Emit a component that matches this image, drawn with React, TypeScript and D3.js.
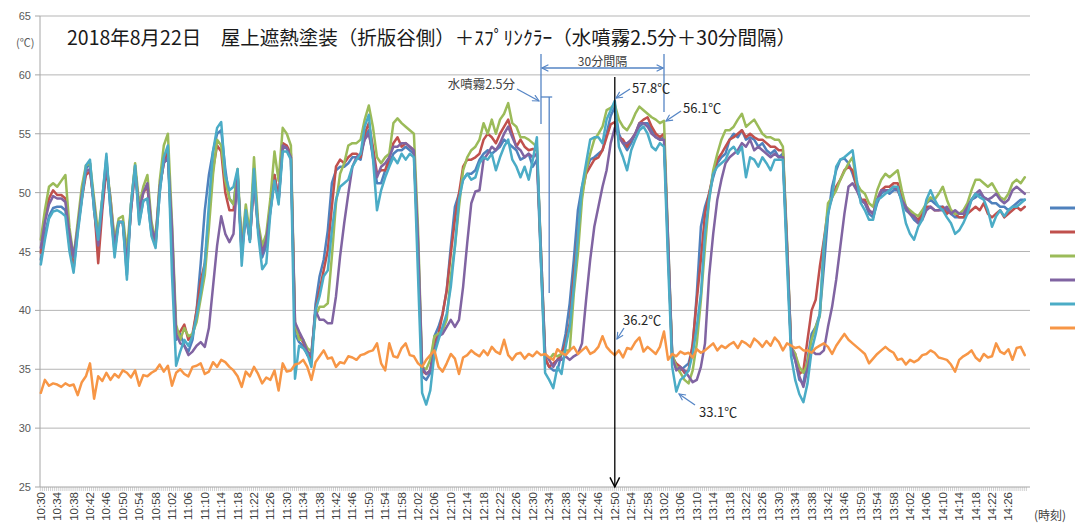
import React from 'react';
import * as d3 from 'd3';

const tickLabels = [
  "10:30","10:34","10:38","10:42","10:46","10:50","10:54","10:58","11:02","11:06",
  "11:10","11:14","11:18","11:22","11:26","11:30","11:34","11:38","11:42","11:46",
  "11:50","11:54","11:58","12:02","12:06","12:10","12:14","12:18","12:22","12:26",
  "12:30","12:34","12:38","12:42","12:46","12:50","12:54","12:58","13:02","13:06",
  "13:10","13:14","13:18","13:22","13:26","13:30","13:34","13:38","13:42","13:46",
  "13:50","13:54","13:58","14:02","14:06","14:10","14:14","14:18","14:22","14:26"
];
const yTicks = [25, 30, 35, 40, 45, 50, 55, 60, 65];

const seriesBlue = [
  44.3,46.5,48.0,48.7,48.8,48.8,48.5,45.5,43.5,46.8,
  49.5,52.0,52.5,48.5,45.5,49.5,53.0,48.5,45.0,47.5,
  47.5,43.0,49.0,52.3,47.5,49.3,49.5,46.5,45.5,50.0,
  53.0,53.5,45.0,37.5,38.0,37.0,36.5,37.5,40.0,44.0,
  48.5,51.5,53.5,55.0,55.3,52.0,49.5,49.0,51.8,44.5,
  48.5,46.0,52.0,47.0,44.5,45.5,48.5,51.5,49.3,53.8,
  53.8,53.0,38.0,37.3,37.0,36.2,35.8,40.5,42.9,44.3,
  46.8,50.8,51.9,52.2,52.2,52.5,53.0,53.0,52.8,54.7,
  55.3,53.0,50.8,50.8,51.9,52.5,53.3,53.6,53.6,53.9,
  53.6,53.3,45.0,34.4,34.1,34.7,37.8,38.6,39.7,41.7,
  45.4,48.8,49.9,51.1,51.6,51.6,51.9,52.8,53.3,53.6,
  53.3,53.6,53.9,54.5,54.2,53.9,53.6,52.8,53.0,53.3,
  52.2,52.8,44.0,35.8,35.2,34.9,34.9,36.3,38.0,40.6,
  44.3,48.5,50.5,51.9,52.8,53.0,53.3,53.6,55.0,56.5,
  57.3,55.0,54.2,53.6,54.2,55.0,55.6,55.9,55.9,55.3,
  54.7,54.5,54.7,45.0,36.3,35.2,34.9,35.2,35.5,36.9,
  41.4,47.1,48.8,49.9,51.3,52.5,53.0,53.3,54.5,55.0,
  54.7,55.3,54.5,54.7,54.5,53.9,54.2,53.6,53.3,53.6,
  53.0,53.3,45.0,36.6,35.8,34.1,33.8,35.8,38.0,38.6,
  39.7,43.7,48.0,50.5,51.9,52.8,52.9,52.5,51.6,50.5,
  49.4,49.1,48.2,47.9,49.1,49.9,50.2,49.9,50.2,50.2,
  49.4,48.5,48.2,47.7,47.4,48.0,49.1,49.4,49.1,48.8,
  48.8,48.5,48.2,47.9,47.9,47.9,48.5,49.4,49.6,49.9,
  49.6,49.4,49.1,49.1,48.8,48.8,48.5,48.8,49.1,49.4,49.4
];
const seriesRed = [
  44.9,48.0,49.5,50.2,49.8,49.8,49.5,46.5,44.0,47.0,
  49.5,51.5,51.8,49.0,44.0,48.5,52.0,49.5,45.5,47.5,
  47.5,44.0,48.5,52.0,48.5,50.0,50.5,47.0,45.8,50.5,
  52.5,53.5,46.0,38.0,38.2,38.8,37.5,38.0,40.0,42.5,
  44.0,48.0,52.0,54.0,53.5,50.0,48.5,48.5,51.5,45.0,
  48.5,46.0,51.0,47.0,45.0,46.0,49.0,51.5,49.5,54.2,
  54.0,53.3,38.5,37.8,37.3,36.5,36.0,40.0,41.7,43.4,
  45.1,48.8,52.2,52.8,52.5,53.0,53.3,53.3,53.0,55.0,
  55.9,53.9,51.6,51.9,51.9,53.0,54.2,54.7,53.9,54.2,
  53.9,53.6,45.5,34.9,34.6,34.9,37.2,38.0,39.7,41.7,
  44.8,47.7,49.9,52.2,52.8,52.8,53.0,53.3,54.5,55.0,
  54.7,54.2,55.0,55.6,56.2,55.0,53.9,54.5,53.9,53.6,
  53.7,53.6,44.5,36.0,35.2,35.5,35.8,36.3,37.2,38.9,
  42.9,46.5,49.9,51.6,52.2,52.8,53.0,53.6,54.7,55.8,
  56.0,54.7,54.5,53.9,54.5,55.0,55.9,56.2,56.4,55.6,
  55.0,54.7,55.0,45.5,36.0,35.5,35.2,34.7,34.9,37.2,
  40.9,44.3,48.2,49.9,51.6,52.8,53.3,53.9,54.5,54.7,
  55.0,55.3,54.7,55.0,54.7,54.5,54.5,54.2,53.9,53.9,
  53.6,53.6,45.5,36.9,36.3,34.6,34.9,37.5,40.0,40.9,
  43.7,46.0,48.5,49.6,50.5,51.1,51.9,52.2,51.9,50.5,
  49.4,49.4,48.5,48.2,49.4,50.2,50.5,50.5,50.8,50.8,
  49.6,48.8,48.2,48.0,47.7,48.2,48.8,48.8,48.5,48.5,
  48.8,48.2,48.5,48.2,47.9,47.9,48.2,48.5,48.8,48.5,
  49.1,48.2,47.9,48.2,48.5,47.9,48.2,48.5,48.8,48.5,48.8
];
const seriesGreen = [
  46.0,48.5,50.5,50.8,50.5,51.0,51.5,47.0,44.5,47.5,
  50.5,52.3,52.5,49.5,46.5,49.5,52.5,49.5,46.0,47.8,
  48.0,45.0,49.0,52.5,49.0,50.5,51.5,47.5,46.0,51.0,
  54.0,55.0,47.5,38.8,37.5,38.5,37.8,38.0,39.0,41.0,
  43.0,47.0,51.5,54.5,54.0,51.0,49.5,49.0,52.0,45.5,
  49.0,46.5,53.0,47.5,45.5,46.5,49.5,53.5,51.0,55.5,
  55.0,54.0,39.0,37.5,37.5,36.8,36.5,39.5,40.3,40.3,
  40.6,44.6,49.1,51.6,52.5,54.0,54.2,54.2,54.5,56.2,
  57.4,55.6,53.0,52.5,53.0,53.3,55.9,56.3,55.9,55.6,
  55.3,55.0,47.0,35.2,35.0,35.8,37.8,38.0,38.3,39.2,
  42.9,45.4,48.8,51.9,53.0,53.6,53.9,54.5,55.9,55.0,
  56.2,55.0,56.2,56.7,57.6,55.9,55.6,54.7,54.7,54.5,
  54.2,53.9,45.0,36.3,35.8,36.3,36.1,36.3,36.6,36.6,
  41.4,44.8,49.4,51.9,53.3,54.5,55.0,55.6,57.0,57.2,
  57.5,56.2,55.6,55.3,55.9,56.7,57.3,57.0,56.7,56.4,
  56.2,55.9,56.1,46.0,36.3,35.2,34.7,34.1,33.8,34.9,
  37.2,40.9,45.4,49.4,51.9,53.3,54.5,55.3,55.3,55.6,
  56.2,56.7,55.6,55.9,56.2,55.6,55.0,54.7,54.7,54.5,
  54.5,53.9,46.0,36.9,36.3,35.2,34.7,35.5,37.5,38.6,
  39.5,45.4,49.1,49.6,50.2,51.1,51.8,52.5,53.0,50.8,
  50.2,49.9,49.1,48.8,50.2,51.1,51.6,51.3,51.6,51.9,
  50.2,48.8,48.5,48.2,48.0,48.5,49.1,49.6,49.4,49.9,
  50.5,49.4,48.5,48.2,48.2,48.5,49.1,50.2,51.1,51.1,
  50.8,50.5,50.8,50.2,49.6,49.4,49.9,50.8,51.1,50.8,51.3
];
const seriesPurple = [
  45.3,47.5,49.0,49.7,49.5,49.5,49.2,46.5,44.5,47.0,
  49.8,51.8,52.0,49.0,45.5,49.0,52.5,49.0,45.5,47.5,
  47.5,44.0,48.5,52.0,48.5,50.0,50.8,47.0,46.0,50.5,
  52.5,53.0,47.0,38.0,37.2,37.0,36.2,36.5,37.0,37.3,
  36.9,38.5,42.0,45.5,48.0,46.5,45.8,46.5,51.5,45.0,
  48.0,46.0,51.0,47.0,44.8,46.0,48.5,51.0,49.3,54.0,
  53.8,53.0,39.0,38.2,37.5,36.5,36.2,40.0,39.2,39.2,
  38.9,38.9,41.2,44.6,47.4,49.9,52.2,53.0,53.3,54.5,
  55.0,53.3,51.3,52.2,52.5,53.0,53.9,53.9,54.2,54.2,
  53.9,53.6,46.0,35.2,34.6,34.9,36.6,37.8,38.0,38.6,
  39.2,38.6,39.2,42.0,45.7,49.1,50.1,50.2,52.8,53.3,
  53.9,53.6,54.2,55.0,55.6,54.7,53.9,53.6,53.0,53.3,
  53.0,53.3,45.0,36.3,35.8,35.2,35.8,35.8,36.1,35.8,
  36.1,36.3,37.2,40.9,44.3,47.1,48.8,50.5,51.9,54.2,
  55.5,54.7,54.2,54.2,54.5,55.0,55.9,55.9,55.6,55.0,
  54.7,54.5,54.5,46.0,36.0,34.9,35.2,34.9,34.4,33.9,
  34.1,35.2,37.2,42.9,46.5,49.4,51.1,52.5,53.0,53.3,
  53.6,54.2,53.9,54.5,53.6,53.9,53.6,53.3,53.0,53.3,
  53.0,53.0,45.5,36.9,35.8,34.4,33.5,35.0,36.6,36.3,
  36.3,36.6,38.6,40.3,42.6,45.4,48.2,50.5,50.8,50.2,
  49.4,49.1,48.5,48.2,49.4,50.2,50.2,50.2,50.5,50.2,
  49.4,48.8,48.2,48.0,47.4,47.7,48.5,48.8,48.5,48.5,
  48.5,48.8,48.2,48.5,48.2,48.2,48.8,49.4,49.9,50.2,
  49.6,49.4,49.6,49.9,49.4,49.1,49.4,50.2,50.5,50.2,49.9
];
const seriesCyan = [
  43.9,46.0,47.8,48.4,48.5,48.3,48.0,45.0,43.2,46.5,
  49.3,52.3,52.8,48.5,46.0,49.5,53.3,48.5,44.5,47.5,
  47.5,42.6,49.0,52.3,47.3,49.3,49.5,46.3,45.3,50.0,
  53.0,54.0,43.0,35.3,36.5,37.5,37.0,37.8,39.5,41.5,
  44.0,49.0,53.5,55.5,56.0,51.5,50.2,50.5,52.0,43.8,
  48.5,45.8,52.0,46.5,43.5,44.0,48.3,51.0,49.0,53.5,
  53.5,52.8,34.2,37.0,36.8,36.3,35.2,40.0,41.2,42.9,
  43.4,46.8,49.4,50.5,50.8,51.1,52.2,52.8,53.3,55.6,
  56.6,53.0,48.5,50.2,51.3,52.2,53.0,52.5,53.3,52.8,
  53.3,53.0,43.0,33.0,32.0,33.2,36.3,37.5,38.6,39.7,
  42.0,45.4,49.4,51.1,51.6,51.1,51.3,52.5,53.0,52.8,
  53.3,51.9,53.0,53.9,54.5,52.8,52.2,51.3,52.2,51.1,
  52.8,54.7,44.0,34.7,34.1,33.4,35.2,34.6,36.9,38.6,
  42.0,46.3,50.5,52.5,54.5,54.7,54.7,54.2,56.2,57.0,
  57.8,53.9,53.0,51.9,53.6,54.5,55.3,55.6,55.0,53.9,
  53.6,54.2,53.9,44.0,35.2,33.1,34.1,34.4,34.9,36.3,
  38.6,41.4,46.5,49.4,51.6,52.2,52.5,52.8,53.6,53.9,
  53.3,53.9,51.3,53.0,52.8,52.2,53.0,52.5,51.9,52.8,
  52.8,52.8,44.0,36.1,34.1,32.9,32.2,33.8,36.6,38.0,
  39.7,45.7,48.2,49.6,52.2,52.8,53.0,53.3,53.6,51.1,
  49.1,48.5,47.7,47.7,49.4,49.6,49.9,50.2,50.5,50.5,
  49.1,47.4,46.5,46.0,47.1,47.7,49.4,50.2,49.4,48.8,
  48.5,47.9,47.4,46.5,46.8,47.4,48.2,49.4,49.9,49.6,
  49.4,48.5,47.1,48.0,48.5,48.0,48.5,48.8,48.8,49.1,49.4
];
const seriesOrange = [
  33.0,34.1,33.6,33.8,33.7,33.5,33.8,33.6,33.7,32.8,
  33.9,34.4,35.5,32.5,34.4,34.0,34.7,34.1,34.6,34.3,
  34.9,34.7,34.3,34.9,33.6,34.5,34.4,34.7,34.9,35.4,
  34.8,35.3,33.6,34.7,35.0,34.6,34.4,35.2,35.3,35.5,
  34.6,34.8,35.6,35.2,35.8,35.6,35.2,34.9,34.4,33.5,
  34.8,34.4,35.2,34.6,33.8,34.3,34.1,34.9,33.2,35.5,
  34.8,34.9,35.4,35.5,35.8,35.2,34.1,35.6,36.1,36.6,
  35.9,36.0,35.2,35.6,35.5,36.1,36.0,35.8,36.2,36.3,
  36.5,36.6,37.2,35.5,34.9,37.2,36.1,36.0,36.8,37.2,
  36.2,36.1,35.5,35.2,35.8,36.2,36.6,35.2,34.8,35.5,
  36.3,35.9,34.6,36.0,36.2,36.6,36.3,36.1,36.6,36.2,
  36.9,36.5,36.3,37.5,36.2,35.8,36.3,36.4,35.9,36.3,
  36.1,36.5,36.2,36.3,36.0,35.8,36.7,36.4,36.2,36.6,
  36.9,36.3,36.6,36.9,36.3,36.5,36.9,37.8,36.9,36.5,
  36.2,36.6,36.0,36.8,36.7,37.3,37.7,36.5,36.9,36.6,
  36.3,36.9,38.2,35.8,36.3,36.1,36.5,36.3,36.4,36.0,
  36.7,36.4,36.6,36.9,37.2,36.6,37.0,36.8,37.1,37.3,
  36.8,37.4,37.2,36.9,37.6,37.3,36.9,37.4,37.0,37.7,
  37.3,36.6,37.2,37.0,36.8,36.9,36.6,36.6,36.4,36.8,
  37.0,37.2,36.9,36.3,37.0,37.5,38.0,37.5,37.2,36.9,
  36.6,36.3,35.5,35.9,36.3,36.6,36.9,36.6,36.4,35.8,
  35.9,35.4,35.8,35.6,35.8,36.2,36.3,36.6,36.4,36.0,
  35.9,35.8,35.4,34.8,35.8,36.1,36.3,36.6,36.0,35.7,
  36.3,36.0,36.1,37.2,36.5,36.3,36.7,35.8,36.8,36.9,36.2
];

const seriesList = [
  { values: seriesBlue, color: '#4F81BD' },
  { values: seriesRed, color: '#C0504D' },
  { values: seriesGreen, color: '#9BBB59' },
  { values: seriesPurple, color: '#8064A2' },
  { values: seriesCyan, color: '#4BACC6' },
  { values: seriesOrange, color: '#F79646' },
];

const W = 1075, H = 524;
const PL = 40, PR = 1030, PT = 16, PB = 487;
const x = d3.scaleLinear().domain([0, 240]).range([40.8, 1024.8]);
const y = d3.scaleLinear().domain([25, 65]).range([PB, PT]);

const sansFont = '"Liberation Sans", Arial, sans-serif';
const jpFont = '"Noto Sans CJK JP", "Noto Sans", sans-serif';
const annBlue = '#5585C5';

export default function App() {
  const line = d3.line<number>()
    .x((_, i) => x(i))
    .y((d) => y(d));
  const minorTicks = d3.range(0, 241, 0.5);
  const legendY = [208, 232, 256, 280, 304, 328];

  return (
    <svg width={W} height={H} style={{ position: 'absolute', left: 0, top: 0, display: 'block', background: '#fff' }}>
      <defs>
        <marker id="arrBlue" viewBox="0 0 10 10" refX="9" refY="5" markerWidth="8" markerHeight="8" orient="auto-start-reverse" markerUnits="userSpaceOnUse">
          <path d="M1,1 L9,5 L1,9" fill="none" stroke={annBlue} strokeWidth="1.4" />
        </marker>
        <marker id="arrBlack" viewBox="0 0 10 10" refX="9" refY="5" markerWidth="14" markerHeight="12" orient="auto" markerUnits="userSpaceOnUse">
          <path d="M1,1 L9,5 L1,9" fill="none" stroke="#000" strokeWidth="1.2" />
        </marker>
      </defs>
      <rect x={0} y={0} width={W} height={H} fill="#fff" />

      {/* gridlines */}
      {yTicks.map((t) => (
        <g key={t}>
          {t > 25 && <line x1={PL} x2={PR} y1={y(t)} y2={y(t)} stroke="#b5b5b5" strokeWidth={1} />}
          <line x1={PL - 5} x2={PL} y1={y(t)} y2={y(t)} stroke="#a6a6a6" strokeWidth={1} />
          <text x={31} y={y(t) + 4} textAnchor="end" fontFamily={sansFont} fontSize={11} fill="#595959">{t}</text>
        </g>
      ))}
      <text x={16} y={47} fontFamily={jpFont} fontSize={11} fill="#595959">(℃)</text>

      {/* axes */}
      <line x1={PL} x2={PL} y1={PT} y2={PB} stroke="#a6a6a6" strokeWidth={1} />
      {minorTicks.map((m) => (
        <line key={m} x1={x(m) - 0.5} x2={x(m) - 0.5} y1={PB} y2={PB + 4} stroke="#c4c4c4" strokeWidth={0.8} />
      ))}
      <line x1={PL} x2={PR} y1={PB} y2={PB} stroke="#a6a6a6" strokeWidth={1} />
      {tickLabels.map((lab, i) => (
        <text key={lab} transform={`translate(${x(i * 4) + 4},${PB + 5}) rotate(-90)`} textAnchor="end"
          fontFamily={sansFont} fontSize={11.5} fill="#404040">{lab}</text>
      ))}
      <text x={1034} y={520} fontFamily={jpFont} fontSize={12} fill="#404040">(時刻)</text>

      {/* series */}
      {seriesList.map((s, i) => (
        <path key={i} d={line(s.values) || ''} fill="none" stroke={s.color} strokeWidth={2.5} strokeLinejoin="round" strokeLinecap="round" />
      ))}

      {/* legend (cut off) */}
      {seriesList.map((s, i) => (
        <line key={i} x1={1050} x2={1076} y1={legendY[i]} y2={legendY[i]} stroke={s.color} strokeWidth={3} />
      ))}

      {/* title */}
      <text x={67} y={45} fontFamily={jpFont} fontSize={19.5} fill="#1a1a1a">2018年8月22日　屋上遮熱塗装（折版谷側）＋ｽﾌﾟﾘﾝｸﾗｰ（水噴霧2.5分＋30分間隔）</text>

      {/* annotations */}
      <line x1={x(122)} x2={x(122)} y1={54} y2={124} stroke={annBlue} strokeWidth={1.3} />
      <line x1={x(152)} x2={x(152)} y1={54} y2={112} stroke={annBlue} strokeWidth={1.3} />
      <line x1={x(122) + 1} x2={x(152) - 1} y1={68} y2={68} stroke={annBlue} strokeWidth={1.3} markerStart="url(#arrBlue)" markerEnd="url(#arrBlue)" />
      <text x={(x(122) + x(152)) / 2} y={65.5} textAnchor="middle" fontFamily={jpFont} fontSize={12} fill="#404040">30分間隔</text>
      <line x1={x(124)} x2={x(124)} y1={97} y2={293} stroke={annBlue} strokeWidth={1.3} />
      <line x1={x(122)} x2={x(124) + 3} y1={97} y2={97} stroke={annBlue} strokeWidth={1.3} />
      <text x={515} y={89} textAnchor="end" fontFamily={jpFont} fontSize={12.5} fill="#404040">水噴霧2.5分</text>
      <line x1={517} y1={89} x2={539} y2={101} stroke={annBlue} strokeWidth={1.3} markerEnd="url(#arrBlue)" />

      <line x1={x(140)} x2={x(140)} y1={77} y2={PB} stroke="#000" strokeWidth={1.3} markerEnd="url(#arrBlack)" />

      <text x={632} y={93} fontFamily={jpFont} fontSize={13} fill="#262626">57.8℃</text>
      <line x1={630} y1={89} x2={616} y2={98} stroke={annBlue} strokeWidth={1.3} markerEnd="url(#arrBlue)" />
      <text x={683} y={113} fontFamily={jpFont} fontSize={13} fill="#262626">56.1℃</text>
      <line x1={681} y1={111} x2={666} y2={121} stroke={annBlue} strokeWidth={1.3} markerEnd="url(#arrBlue)" />
      <text x={623} y={325} fontFamily={jpFont} fontSize={13} fill="#262626">36.2℃</text>
      <line x1={624} y1={328} x2={617} y2={339} stroke={annBlue} strokeWidth={1.3} markerEnd="url(#arrBlue)" />
      <text x={699} y={417} fontFamily={jpFont} fontSize={13} fill="#262626">33.1℃</text>
      <line x1={695} y1={405} x2={679} y2={394} stroke={annBlue} strokeWidth={1.3} markerEnd="url(#arrBlue)" />
    </svg>
  );
}
